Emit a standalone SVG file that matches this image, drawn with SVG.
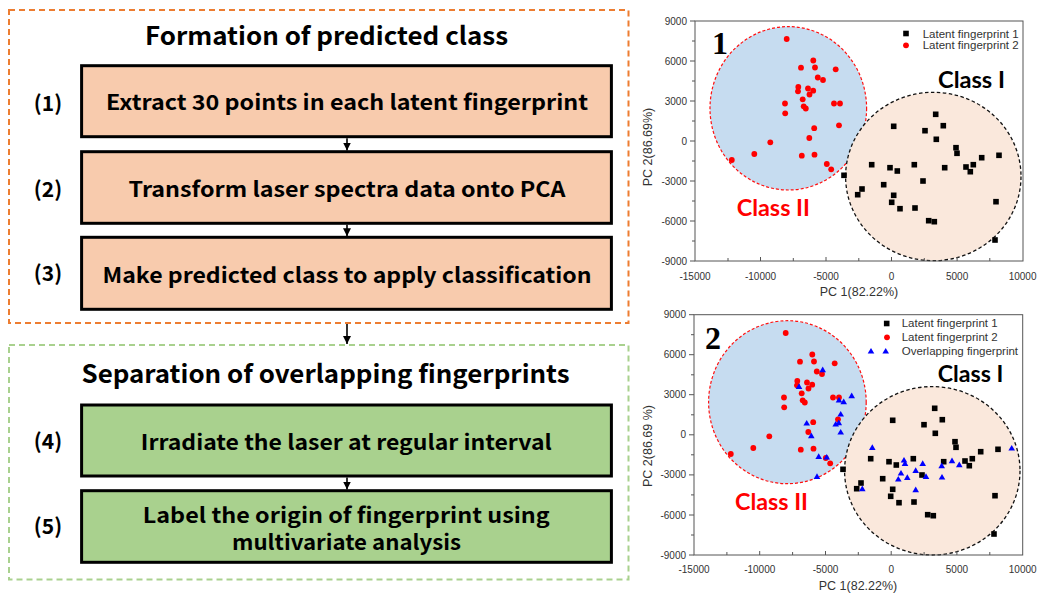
<svg xmlns="http://www.w3.org/2000/svg" xmlns:xlink="http://www.w3.org/1999/xlink" width="1043" height="598" viewBox="0 0 1043 598">
<style>
.ttl{font-family:"Noto Sans CJK KR","Noto Sans",sans-serif;font-weight:bold;fill:#000;}
.box{stroke:#000;stroke-width:3;}
.orange{fill:#F8CBAD;}
.green{fill:#A9D18E;}
.bt{font-family:"Noto Sans CJK KR","Noto Sans",sans-serif;font-weight:bold;font-size:21px;fill:#000;text-anchor:middle;}
.num{font-family:"Noto Sans CJK KR","Noto Sans",sans-serif;font-weight:bold;font-size:21px;fill:#000;text-anchor:middle;}
.conn{stroke:#000;stroke-width:1.6;fill:none;}
.tick{font-family:"Liberation Sans",Arial,sans-serif;font-size:10px;fill:#333;}
.axt{font-family:"Liberation Sans",Arial,sans-serif;font-size:12.5px;fill:#333;text-anchor:middle;}
.leg{font-family:"Liberation Sans",Arial,sans-serif;font-size:11.5px;fill:#333;}
.frame{fill:none;stroke:#555;stroke-width:1;}
.tk{stroke:#555;stroke-width:1;}
.cls{font-family:Lato,"Noto Sans",sans-serif;font-weight:bold;font-size:23px;}
.big{font-family:"Liberation Serif","Times New Roman",serif;font-weight:bold;font-size:32px;fill:#000;}
.c2{fill:#C6DCF0;stroke:#FF1010;stroke-width:1.2;stroke-dasharray:3 2;}
.c1{fill:#FAE8DC;stroke:#111;stroke-width:1.3;stroke-dasharray:3.5 2.5;}
</style>
<defs>
<marker id="ah" markerUnits="userSpaceOnUse" markerWidth="9" markerHeight="9" refX="8" refY="4.5" orient="auto">
<path d="M0,0.5 L8,4.5 L0,8.5 z" fill="#000"/>
</marker>
<rect id="sq" x="-2.8" y="-2.8" width="5.6" height="5.6" fill="#000"/>
<circle id="rd" r="2.9" fill="#FF0000"/>
<polygon id="tr" points="0,-3.4 3.3,2.2 -3.3,2.2" fill="#0000FF"/>
</defs>
<rect width="1043" height="598" fill="#fff"/>

<!-- Flowchart containers -->
<g id="group-formation">
<rect x="9" y="10" width="619.5" height="313" fill="none" stroke="#ED7D31" stroke-width="2" stroke-dasharray="6 4"/>
<text class="ttl" x="326.5" y="45" font-size="25" text-anchor="middle" textLength="363" lengthAdjust="spacingAndGlyphs">Formation of predicted class</text>
</g>
<g id="group-separation">
<rect x="9" y="345" width="619.5" height="234.5" fill="none" stroke="#A9D18E" stroke-width="2" stroke-dasharray="6 4"/>
<text class="ttl" x="325.5" y="382.7" font-size="25" text-anchor="middle" textLength="488" lengthAdjust="spacingAndGlyphs">Separation of overlapping fingerprints</text>
</g>

<g id="step1">
<rect class="box orange" x="81.6" y="65.7" width="529.8" height="71"/>
<text class="bt" x="347" y="110" textLength="482" lengthAdjust="spacingAndGlyphs">Extract 30 points in each latent fingerprint</text>
<text class="num" x="48" y="111">(1)</text>
</g>
<g id="step2">
<rect class="box orange" x="81.6" y="151.7" width="529.8" height="71.6"/>
<text class="bt" x="347" y="196.7" textLength="437" lengthAdjust="spacingAndGlyphs">Transform laser spectra data onto PCA</text>
<text class="num" x="48" y="196.5">(2)</text>
</g>
<g id="step3">
<rect class="box orange" x="81.6" y="237.3" width="529.8" height="72"/>
<text class="bt" x="347" y="282.7" textLength="489" lengthAdjust="spacingAndGlyphs">Make predicted class to apply classification</text>
<text class="num" x="48" y="281">(3)</text>
</g>
<g id="step4">
<rect class="box green" x="81.6" y="405" width="529.8" height="71"/>
<text class="bt" x="346.3" y="450" textLength="411" lengthAdjust="spacingAndGlyphs">Irradiate the laser at regular interval</text>
<text class="num" x="48" y="449.3">(4)</text>
</g>
<g id="step5">
<rect class="box green" x="81.6" y="490.7" width="529.8" height="71.6"/>
<text class="bt" x="346.3" y="522.7" textLength="407" lengthAdjust="spacingAndGlyphs">Label the origin of fingerprint using</text>
<text class="bt" x="346.5" y="550" textLength="229" lengthAdjust="spacingAndGlyphs">multivariate analysis</text>
<text class="num" x="48" y="534">(5)</text>
</g>

<g id="connectors">
<line class="conn" x1="347" y1="138.2" x2="347" y2="150.5" marker-end="url(#ah)"/>
<line class="conn" x1="347" y1="224.8" x2="347" y2="236.2" marker-end="url(#ah)"/>
<line class="conn" x1="347" y1="324" x2="347" y2="344" marker-end="url(#ah)"/>
<line class="conn" x1="347" y1="477.5" x2="347" y2="489.5" marker-end="url(#ah)"/>
</g>

<!-- Plot 1 -->
<g id="plot1">
<ellipse class="c2" cx="788.3" cy="108.3" rx="78.3" ry="81.7"/>
<ellipse class="c1" cx="933.3" cy="176.5" rx="87.7" ry="84.2"/>
<rect class="frame" x="695" y="21" width="328" height="240"/>
<g class="tk">
<line x1="690" y1="21" x2="695" y2="21"/><line x1="692" y1="41" x2="695" y2="41"/>
<line x1="690" y1="61" x2="695" y2="61"/><line x1="692" y1="81" x2="695" y2="81"/>
<line x1="690" y1="101" x2="695" y2="101"/><line x1="692" y1="121" x2="695" y2="121"/>
<line x1="690" y1="141" x2="695" y2="141"/><line x1="692" y1="161" x2="695" y2="161"/>
<line x1="690" y1="181" x2="695" y2="181"/><line x1="692" y1="201" x2="695" y2="201"/>
<line x1="690" y1="221" x2="695" y2="221"/><line x1="692" y1="241" x2="695" y2="241"/>
<line x1="690" y1="261" x2="695" y2="261"/>
<line x1="728" y1="261" x2="728" y2="258"/><line x1="760.5" y1="261" x2="760.5" y2="257"/>
<line x1="793.3" y1="261" x2="793.3" y2="258"/><line x1="826" y1="261" x2="826" y2="257"/>
<line x1="858.8" y1="261" x2="858.8" y2="258"/><line x1="891.5" y1="261" x2="891.5" y2="257"/>
<line x1="924.3" y1="261" x2="924.3" y2="258"/><line x1="957.1" y1="261" x2="957.1" y2="257"/>
<line x1="989.8" y1="261" x2="989.8" y2="258"/>
</g>
<g class="tick" text-anchor="end">
<text x="687" y="24.5">9000</text><text x="687" y="64.5">6000</text><text x="687" y="104.5">3000</text>
<text x="687" y="144.5">0</text><text x="687" y="184.5">-3000</text><text x="687" y="224.5">-6000</text><text x="687" y="264.5">-9000</text>
</g>
<g class="tick" text-anchor="middle">
<text x="695" y="279.5">-15000</text><text x="760.5" y="279.5">-10000</text><text x="826" y="279.5">-5000</text>
<text x="891.5" y="279.5">0</text><text x="957.1" y="279.5">5000</text><text x="1022.6" y="279.5">10000</text>
</g>
<text class="axt" x="859" y="296">PC 1(82.22%)</text>
<text class="axt" transform="translate(651.5,147) rotate(-90)">PC 2(86.69%)</text>
<g id="pts1">
<use href="#rd" x="786.7" y="39"/><use href="#rd" x="813.3" y="60.5"/><use href="#rd" x="801" y="67.7"/>
<use href="#rd" x="815" y="67.5"/><use href="#rd" x="835.7" y="69.3"/><use href="#rd" x="817.8" y="77.5"/>
<use href="#rd" x="823" y="80"/><use href="#rd" x="798.3" y="87"/><use href="#rd" x="798" y="91.3"/>
<use href="#rd" x="808" y="88.5"/><use href="#rd" x="813.2" y="90.7"/><use href="#rd" x="809.5" y="94.5"/>
<use href="#rd" x="802.7" y="99.3"/><use href="#rd" x="785" y="103.5"/><use href="#rd" x="803.7" y="106.3"/>
<use href="#rd" x="805.8" y="108.5"/><use href="#rd" x="834" y="103.5"/><use href="#rd" x="840" y="103.5"/>
<use href="#rd" x="785.2" y="113.3"/><use href="#rd" x="839" y="125.3"/><use href="#rd" x="814.2" y="128.2"/>
<use href="#rd" x="809.3" y="138"/><use href="#rd" x="770.3" y="142.3"/><use href="#rd" x="754.3" y="154"/>
<use href="#rd" x="731.8" y="160"/><use href="#rd" x="801.8" y="155.7"/><use href="#rd" x="814.5" y="154.7"/>
<use href="#rd" x="826.8" y="164"/><use href="#rd" x="831.2" y="169.3"/>
<use href="#sq" x="935.7" y="114.3"/><use href="#sq" x="893.7" y="126.3"/><use href="#sq" x="943.3" y="125.7"/>
<use href="#sq" x="925" y="130.7"/><use href="#sq" x="936.3" y="139.3"/><use href="#sq" x="956" y="147.7"/>
<use href="#sq" x="957" y="153.3"/><use href="#sq" x="981.7" y="157.7"/><use href="#sq" x="999" y="155.3"/>
<use href="#sq" x="871.7" y="164.7"/><use href="#sq" x="890" y="167.7"/><use href="#sq" x="897.3" y="171"/>
<use href="#sq" x="914.3" y="164.7"/><use href="#sq" x="944.7" y="167.7"/><use href="#sq" x="966" y="167"/>
<use href="#sq" x="973.3" y="164.7"/><use href="#sq" x="970.3" y="171.7"/><use href="#sq" x="844" y="175.3"/>
<use href="#sq" x="923" y="181"/><use href="#sq" x="883.7" y="184.7"/><use href="#sq" x="862" y="189"/>
<use href="#sq" x="857.7" y="194.7"/><use href="#sq" x="893.7" y="195.3"/><use href="#sq" x="891.7" y="202.3"/>
<use href="#sq" x="900" y="208.7"/><use href="#sq" x="915" y="208"/><use href="#sq" x="928.7" y="220.7"/>
<use href="#sq" x="934.3" y="221.7"/><use href="#sq" x="996" y="201.7"/><use href="#sq" x="995" y="240"/>
</g>
<text class="big" x="712" y="54">1</text>
<text class="cls" x="938" y="88.3" fill="#000" textLength="67" lengthAdjust="spacingAndGlyphs">Class I</text>
<text class="cls" x="736.7" y="216" fill="#FF0000" textLength="73.3" lengthAdjust="spacingAndGlyphs">Class II</text>
<use href="#sq" x="906" y="33.5"/>
<use href="#rd" x="906" y="45.3"/>
<text class="leg" x="922.7" y="37.5">Latent fingerprint 1</text>
<text class="leg" x="922.7" y="49.3">Latent fingerprint 2</text>
</g>

<!-- Plot 2 -->
<g id="plot2">
<ellipse class="c2" cx="787.4" cy="402.2" rx="78.8" ry="81.5"/>
<ellipse class="c1" cx="932.3" cy="470.8" rx="87.7" ry="84.2"/>
<rect class="frame" x="694" y="314.7" width="328.7" height="240.3"/>
<g class="tk">
<line x1="689" y1="314.7" x2="694" y2="314.7"/><line x1="691" y1="334.7" x2="694" y2="334.7"/>
<line x1="689" y1="354.7" x2="694" y2="354.7"/><line x1="691" y1="374.8" x2="694" y2="374.8"/>
<line x1="689" y1="394.7" x2="694" y2="394.7"/><line x1="691" y1="414.8" x2="694" y2="414.8"/>
<line x1="689" y1="434.8" x2="694" y2="434.8"/><line x1="691" y1="454.8" x2="694" y2="454.8"/>
<line x1="689" y1="474.9" x2="694" y2="474.9"/><line x1="691" y1="494.9" x2="694" y2="494.9"/>
<line x1="689" y1="515" x2="694" y2="515"/><line x1="691" y1="535" x2="694" y2="535"/>
<line x1="689" y1="555" x2="694" y2="555"/>
<line x1="726.9" y1="555" x2="726.9" y2="552"/><line x1="759.7" y1="555" x2="759.7" y2="551"/>
<line x1="792.6" y1="555" x2="792.6" y2="552"/><line x1="825.5" y1="555" x2="825.5" y2="551"/>
<line x1="858.3" y1="555" x2="858.3" y2="552"/><line x1="891.2" y1="555" x2="891.2" y2="551"/>
<line x1="924.1" y1="555" x2="924.1" y2="552"/><line x1="956.9" y1="555" x2="956.9" y2="551"/>
<line x1="989.8" y1="555" x2="989.8" y2="552"/>
</g>
<g class="tick" text-anchor="end">
<text x="686" y="318.2">9000</text><text x="686" y="358.2">6000</text><text x="686" y="398.2">3000</text>
<text x="686" y="438.3">0</text><text x="686" y="478.4">-3000</text><text x="686" y="518.5">-6000</text><text x="686" y="558.5">-9000</text>
</g>
<g class="tick" text-anchor="middle">
<text x="694" y="572.5">-15000</text><text x="759.7" y="572.5">-10000</text><text x="825.5" y="572.5">-5000</text>
<text x="891.2" y="572.5">0</text><text x="956.9" y="572.5">5000</text><text x="1022.7" y="572.5">10000</text>
</g>
<text class="axt" x="858" y="589.5">PC 1(82.22%)</text>
<text class="axt" transform="translate(651.5,446) rotate(-90)">PC 2(86.69 %)</text>
<use href="#pts1" transform="translate(-1,294)"/>
<g id="pts2">
<use href="#tr" x="822.7" y="370"/><use href="#tr" x="799" y="386.7"/><use href="#tr" x="839" y="400.3"/>
<use href="#tr" x="843.7" y="402"/><use href="#tr" x="851.7" y="396"/><use href="#tr" x="840.7" y="414.3"/>
<use href="#tr" x="806.7" y="423.3"/><use href="#tr" x="835.7" y="424.3"/><use href="#tr" x="838.8" y="423"/>
<use href="#tr" x="840.7" y="432.3"/><use href="#tr" x="811.3" y="436"/><use href="#tr" x="818.7" y="456.7"/>
<use href="#tr" x="826.7" y="457.3"/><use href="#tr" x="817" y="476.7"/><use href="#tr" x="872.3" y="447.7"/>
<use href="#tr" x="904" y="460.3"/><use href="#tr" x="905" y="463.7"/><use href="#tr" x="922.7" y="463.7"/>
<use href="#tr" x="901" y="473.3"/><use href="#tr" x="898.3" y="479.3"/><use href="#tr" x="907.3" y="477.7"/>
<use href="#tr" x="915.7" y="470.7"/><use href="#tr" x="926" y="476.7"/><use href="#tr" x="941.7" y="466"/>
<use href="#tr" x="942" y="477.3"/><use href="#tr" x="952" y="461"/><use href="#tr" x="959.3" y="465"/>
<use href="#tr" x="915.7" y="490"/><use href="#tr" x="862.3" y="489"/><use href="#tr" x="1011.7" y="448.3"/>
</g>
<text class="big" x="705" y="349.3">2</text>
<text class="cls" x="937.7" y="382.3" fill="#000" textLength="65.6" lengthAdjust="spacingAndGlyphs">Class I</text>
<text class="cls" x="735" y="509.5" fill="#FF0000" textLength="73" lengthAdjust="spacingAndGlyphs">Class II</text>
<use href="#sq" x="886.7" y="323.5"/>
<use href="#rd" x="887" y="337.3"/>
<use href="#tr" x="871" y="351.4"/>
<use href="#tr" x="885.7" y="351.4"/>
<text class="leg" x="901.7" y="327.3">Latent fingerprint 1</text>
<text class="leg" x="901.7" y="341.1">Latent fingerprint 2</text>
<text class="leg" x="901.7" y="355">Overlapping fingerprint</text>
</g>
</svg>
